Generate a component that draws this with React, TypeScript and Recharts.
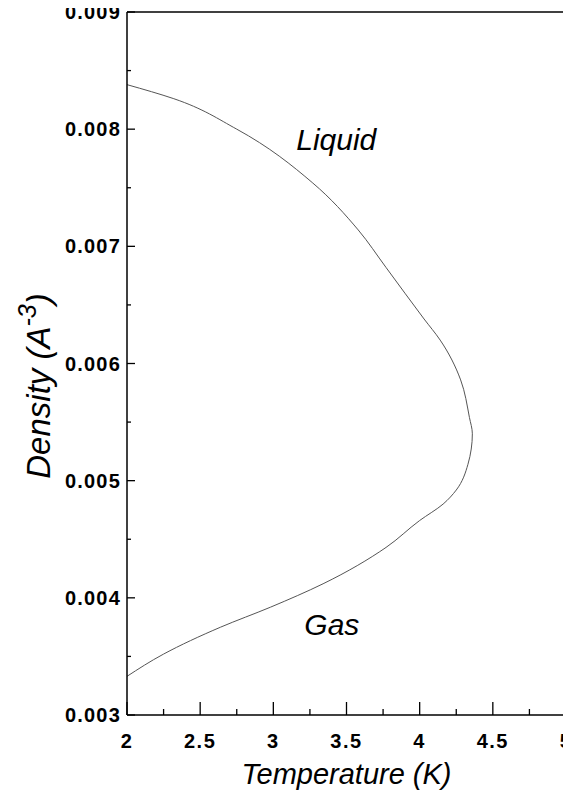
import { Line, LineChart, ReferenceDot, ReferenceLine, XAxis, YAxis } from "recharts";

// coexistence curve, traced from the liquid side round the critical point to the gas side
const temps = [
  2.0, 2.32, 2.75, 3.27, 3.58, 3.77, 4.03, 4.14, 4.28, 4.34, 4.36, 4.33, 4.25, 4.16, 4.0, 3.77,
  3.34, 2.98, 2.64, 2.25, 2.0,
];
const dens = [
  0.00838, 0.00826, 0.008, 0.00754, 0.00714, 0.00682, 0.00638, 0.0062, 0.00586, 0.00554,
  0.0054, 0.00514, 0.00492, 0.0048, 0.00466, 0.00443, 0.00412, 0.00392, 0.00375, 0.00352,
  0.00333,
];

const xTicks = [2, 2.25, 2.5, 2.75, 3, 3.25, 3.5, 3.75, 4, 4.25, 4.5, 4.75, 5];
const yTicks = [
  0.003, 0.0035, 0.004, 0.0045, 0.005, 0.0055, 0.006, 0.0065, 0.007, 0.0075, 0.008, 0.0085,
  0.009,
];

const phaseNames = ["Liquid", "Gas"];
const phaseTemps = [3.43, 3.4];
const phaseDens = [0.00791, 0.00377];

const data = temps.map((t, i) => ({ temp: t, dens: dens[i] }));

const FONT = "'Liberation Sans', Arial, sans-serif";

function XTick(props: any) {
  const { x, y, payload } = props;
  const v = payload.value as number;
  const major = Math.abs(v * 2 - Math.round(v * 2)) < 1e-6;
  return (
    <g>
      <line x1={x} x2={x} y1={y} y2={y - (major ? 13 : 6)} stroke="#000" strokeWidth={1.3} />
      {major && (
        <text
          x={x}
          y={y + 33}
          textAnchor="middle"
          fontFamily={FONT}
          fontWeight="bold"
          fontSize={20}
          letterSpacing={1.5}
          fill="#000"
        >
          {String(v)}
        </text>
      )}
    </g>
  );
}

function YTick(props: any) {
  const { x, y, payload } = props;
  const v = payload.value as number;
  const major = Math.abs(v * 1000 - Math.round(v * 1000)) < 1e-6;
  return (
    <g>
      <line x1={x} x2={x + (major ? 8 : 4)} y1={y} y2={y} stroke="#000" strokeWidth={1.3} />
      {major && (
        <text
          x={x - 6}
          y={y + 7}
          textAnchor="end"
          fontFamily={FONT}
          fontWeight="bold"
          fontSize={20}
          letterSpacing={1.2}
          fill="#000"
        >
          {v.toFixed(3)}
        </text>
      )}
    </g>
  );
}

function YTitle() {
  return (
    <text
      transform="rotate(-90, 50, 386)"
      x={50}
      y={386}
      textAnchor="middle"
      fontFamily={FONT}
      fontStyle="italic"
      fontSize={33}
      fill="#000"
    >
      Density (A
      <tspan fontSize={25} dy={-14}>
        -3
      </tspan>
      <tspan dy={14}>)</tspan>
    </text>
  );
}

export default function App() {
  return (
    <div style={{ width: 571, height: 798, margin: -8 }}>
      <LineChart
        width={571}
        height={798}
        data={data}
        margin={{ top: 12, right: 5, left: 0, bottom: 0 }}
        style={{ overflow: "visible" }}
      >
        <XAxis
          dataKey="temp"
          type="number"
          domain={[2, 5]}
          ticks={xTicks}
          interval={0}
          tickSize={0}
          tickMargin={0}
          tickLine={false}
          height={83}
          axisLine={{ stroke: "#000", strokeWidth: 1.5 }}
          tick={<XTick />}
          label={{
            value: "Temperature (K)",
            position: "insideBottom",
            offset: 14,
            style: { fontFamily: FONT, fontStyle: "italic", fontSize: 29, fill: "#000" },
          }}
        />
        <YAxis
          type="number"
          domain={[0.003, 0.009]}
          ticks={yTicks}
          interval={0}
          tickSize={0}
          tickMargin={0}
          tickLine={false}
          width={127}
          axisLine={{ stroke: "#000", strokeWidth: 1.5 }}
          tick={<YTick />}
          label={{ content: () => <YTitle /> }}
        />
        <ReferenceLine y={0.009} stroke="#000" strokeWidth={1.5} />
        <ReferenceLine x={5} stroke="#000" strokeWidth={1.5} />
        {phaseNames.map((name, i) => (
          <ReferenceDot
            key={name}
            x={phaseTemps[i]}
            y={phaseDens[i]}
            r={0}
            fill="none"
            stroke="none"
            label={{
              value: name,
              position: "center",
              style: { fontFamily: FONT, fontStyle: "italic", fontSize: 30, fill: "#000" },
            }}
          />
        ))}
        <Line
          type="monotoneY"
          dataKey="dens"
          stroke="#555"
          strokeWidth={1}
          dot={false}
          isAnimationActive={false}
        />
      </LineChart>
    </div>
  );
}
